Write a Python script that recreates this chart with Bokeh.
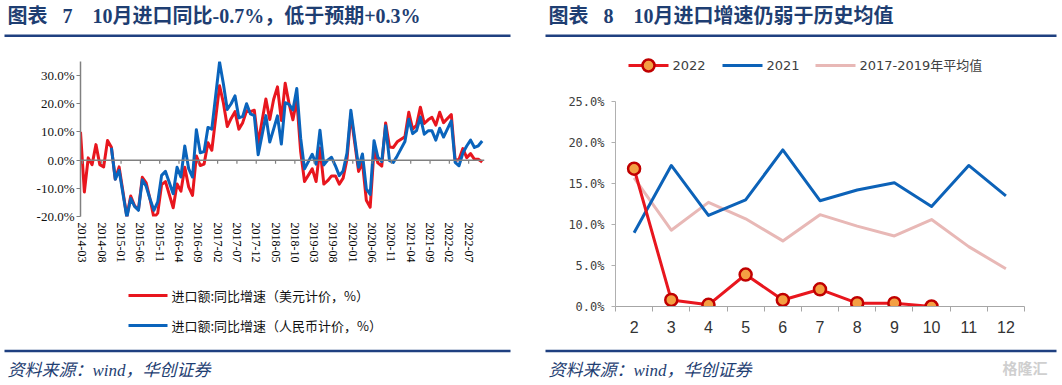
import pandas as pd
from bokeh.plotting import figure
from bokeh.models import (Range1d, FixedTicker, PrintfTickFormatter, Span, Label, BoxAnnotation)
from bokeh.layouts import row, column
from bokeh.embed import file_html
from bokeh.resources import INLINE

# ---------------- data: left chart (monthly, 2014-02 .. 2022-10; January not published) ----
months = pd.period_range("2014-02", "2022-10", freq="M").strftime("%Y-%m").tolist()

usd_2014 = [10.0, -11.3, 0.8, -1.6, 5.5, -1.6, -2.4, 7.0, 4.6, -6.7, -2.4]          # Feb-Dec
usd_2015 = [None, -20.1, -12.7, -16.2, -17.6, -6.1, -8.1, -13.8, -20.4, -18.8, -8.7, -7.6]
usd_2016 = [None, -16.9, -8.5, -11.0, -2.5, -9.5, -12.5, 1.5, -1.9, -1.4, 6.2, 3.5]
usd_2017 = [None, 26.4, 20.3, 11.9, 14.8, 17.2, 11.0, 13.3, 17.5, 17.2, 17.7, 6.0]
usd_2018 = [None, 21.7, 14.4, 21.5, 26.0, 14.1, 27.3, 20.0, 14.3, 21.4, 3.0, -7.6]
usd_2019 = [None, -3.1, -7.6, 4.3, -8.5, -7.3, -5.6, -5.6, -8.5, -6.4, 0.3, 16.3]
usd_2020 = [None, -4.0, -0.9, -14.2, -16.7, 3.5, -1.0, -2.1, 13.2, 4.7, 4.5, 6.5]
usd_2021 = [None, 8.3, 17.0, 11.0, 12.4, 18.8, 13.0, 14.3, 15.2, 12.4, 17.0, 13.3]
usd_2022 = [None, 16.2, -0.1, 0.2, 4.1, 0.9, 2.3, 0.3, 0.3, -0.7]                   # Jan-Oct

rmb_2014 = [None] * 8 + [4.4, -6.8, -3.6]
rmb_2015 = [None, -20.3, -13.6, -16.4, -17.8, -7.0, -9.3, -13.8, -17.8, -14.8, -5.4, -4.0]
rmb_2016 = [None, -11.9, -2.5, -6.0, 5.0, -3.0, -6.0, 10.8, 2.6, 3.0, 11.6, 11.0]
rmb_2017 = [None, 34.8, 27.0, 18.0, 20.0, 22.8, 15.0, 15.5, 20.0, 16.4, 15.8, 1.9]
rmb_2018 = [None, 15.8, 6.4, 11.0, 15.7, 5.7, 20.4, 19.8, 17.8, 25.4, 7.8, -3.1]
rmb_2019 = [None, 2.1, -1.4, 10.6, -1.7, 0.0, 1.0, -2.0, -5.5, -3.8, 2.5, 17.7]
rmb_2020 = [None, -2.5, 2.2, -10.2, -12.2, 6.9, 1.0, -0.5, 12.2, -0.2, -0.8, 1.5]
rmb_2021 = [None, 6.6, 14.5, 9.4, 10.5, 15.3, 9.2, 10.4, 10.4, 7.1, 11.3, 8.2]
rmb_2022 = [None, 13.9, -0.8, -2.0, 2.5, 5.0, 7.1, 4.5, 5.1, 6.8]

usd = usd_2014 + usd_2015 + usd_2016 + usd_2017 + usd_2018 + usd_2019 + usd_2020 + usd_2021 + usd_2022
rmb = rmb_2014 + rmb_2015 + rmb_2016 + rmb_2017 + rmb_2018 + rmb_2019 + rmb_2020 + rmb_2021 + rmb_2022

tick_labels_left = ["2014-03", "2014-08", "2015-01", "2015-06", "2015-11", "2016-04", "2016-09",
                    "2017-02", "2017-07", "2017-12", "2018-05", "2018-10", "2019-03", "2019-08",
                    "2020-01", "2020-06", "2020-11", "2021-04", "2021-09", "2022-02", "2022-07"]
left_y_ticks = [-20, -10, 0, 10, 20, 30]
left_series_names = ["进口额:同比增速（美元计价，%）", "进口额:同比增速（人民币计价，%）"]

# ---------------- data: right chart ----------------
month_nums = [2, 3, 4, 5, 6, 7, 8, 9, 10, 11, 12]
y2022 = [16.8, 0.8, 0.2, 3.9, 0.8, 2.1, 0.4, 0.4, 0.0]
y2021 = [9.0, 17.2, 11.1, 13.0, 19.1, 12.9, 14.2, 15.1, 12.2, 17.2, 13.5]
avg_2017_2019 = [15.7, 9.3, 12.7, 10.7, 8.0, 11.2, 9.8, 8.6, 10.6, 7.3, 4.6]
right_y_ticks = [0, 5, 10, 15, 20, 25]
right_series_names = ["2022", "2021", "2017-2019年平均值"]

title_left = "图表\u2002\u20057\u200310月进口同比-0.7%，低于预期+0.3%"
title_right = "图表\u2002\u20058\u200310月进口增速仍弱于历史均值"
source_text = "资料来源：wind，华创证券"

TITLE_BLUE = "#1e3e72"
RULE_BLUE = "#1f4080"
SERIF_CJK = "Liberation Serif, Noto Sans CJK SC"
RED = "#e8161e"
BLUE = "#0a64bc"
PINK = "#e8b8b6"


def panel(x0, x1, y0, y1):
    """Decoration canvas whose data units equal page pixels (y grows downward)."""
    f = figure(width=x1 - x0, height=y1 - y0, x_range=Range1d(x0, x1), y_range=Range1d(y1, y0),
               output_backend="svg", toolbar_location=None, x_axis_type=None, y_axis_type=None,
               min_border_left=0, min_border_right=0, min_border_top=0, min_border_bottom=0,
               frame_align=False)
    f.outline_line_color = None
    f.xgrid.visible = False
    f.ygrid.visible = False
    return f


def rule(f, x0, x1, y):
    f.add_layout(BoxAnnotation(left=x0, right=x1, top=y - 1.2, bottom=y + 1.2,
                               fill_color=RULE_BLUE, fill_alpha=1, line_alpha=0))


def text(f, x, y, s, font, size, color, style="normal"):
    f.add_layout(Label(x=x, y=y, text=s, text_font=font, text_font_size=size,
                       text_font_style=style, text_color=color,
                       text_baseline="middle", text_align="left"))


# ================= LEFT CHART =================
idx = list(range(len(months)))
ux = [i for i, v in zip(idx, usd) if v is not None]
uy = [v for v in usd if v is not None]
rx = [i for i, v in zip(idx, rmb) if v is not None]
ry = [v for v in rmb if v is not None]

p1 = figure(width=538, height=230, x_range=Range1d(0, 104.6), y_range=Range1d(-20, 35),
            output_backend="svg", toolbar_location=None, frame_align=False,
            min_border_left=80, min_border_right=54, min_border_top=16, min_border_bottom=59)
p1.outline_line_color = None
p1.xgrid.visible = False
p1.ygrid.visible = False

p1.add_layout(Span(location=0, dimension="width", line_color="#808080", line_width=1.5))
p1.line(ux, uy, line_color=RED, line_width=3, line_join="round")
p1.line(rx, ry, line_color=BLUE, line_width=3, line_join="round")

tick_pos = [months.index(t) - 0.5 for t in tick_labels_left]
p1.segment(x0=tick_pos, y0=[0] * len(tick_pos), x1=tick_pos, y1=[-1.3] * len(tick_pos),
           line_color="#808080", line_width=1.2)

xa = p1.xaxis[0]
xa.ticker = FixedTicker(ticks=tick_pos, minor_ticks=[])
xa.major_label_overrides = {t: lab for t, lab in zip(tick_pos, tick_labels_left)}
xa.axis_line_color = None
xa.major_tick_line_color = None
xa.minor_tick_line_color = None
xa.major_tick_out = 0
xa.major_tick_in = 0
xa.major_label_standoff = 6
xa.major_label_orientation = "vertical"
xa.major_label_text_font = "Liberation Serif"
xa.major_label_text_font_size = "12px"
xa.major_label_text_color = "#000000"

ya = p1.yaxis[0]
ya.ticker = FixedTicker(ticks=left_y_ticks, minor_ticks=[])
ya.formatter = PrintfTickFormatter(format="%.1f%%")
ya.axis_line_color = "#808080"
ya.axis_line_width = 1.5
ya.major_tick_line_color = "#808080"
ya.major_tick_line_width = 1.2
ya.major_tick_out = 4
ya.major_tick_in = 0
ya.minor_tick_line_color = None
ya.major_label_standoff = 2
ya.major_label_text_font = "Liberation Serif"
ya.major_label_text_font_size = "13px"
ya.major_label_text_color = "#111111"

headL = panel(0, 538, 0, 45)
text(headL, 7, 15, title_left, SERIF_CJK, "20px", TITLE_BLUE, "bold")
rule(headL, 4, 510, 35.3)

footL = panel(0, 538, 275, 385)
for yy, col, name in zip([295, 325], [RED, BLUE], left_series_names):
    footL.line([128, 167], [yy, yy], line_color=col, line_width=3)
    text(footL, 171, yy, name, "Noto Sans CJK SC", "13px", "#111111")
rule(footL, 4, 510, 350.5)
text(footL, 7, 370, source_text, SERIF_CJK, "17px", TITLE_BLUE, "italic")

# ================= RIGHT CHART =================
p2 = figure(width=524, height=255, x_range=Range1d(1.5, 12.5), y_range=Range1d(0, 25),
            output_backend="svg", toolbar_location=None, frame_align=False,
            min_border_left=77, min_border_right=38, min_border_top=16, min_border_bottom=34)
p2.outline_line_color = None
p2.xgrid.visible = False
p2.ygrid.visible = False

p2.line(month_nums, avg_2017_2019, line_color=PINK, line_width=3, line_join="round")
p2.line(month_nums, y2021, line_color="#0c62b8", line_width=3, line_join="round")
p2.line(month_nums[:len(y2022)], y2022, line_color=RED, line_width=3, line_join="round")
p2.scatter(month_nums[:len(y2022)], y2022, size=12, marker="circle",
           fill_color="#f4a043", line_color="#c00000", line_width=2.5)

xb = p2.xaxis[0]
xb.ticker = FixedTicker(ticks=month_nums,
                        minor_ticks=[m - 0.5 for m in month_nums] + [month_nums[-1] + 0.5])
xb.axis_line_color = "#a6a6a6"
xb.major_tick_out = 0
xb.major_tick_in = 0
xb.major_tick_line_color = None
xb.minor_tick_out = 5
xb.minor_tick_in = 0
xb.minor_tick_line_color = "#a6a6a6"
xb.major_label_standoff = 9
xb.major_label_text_font = "Liberation Sans"
xb.major_label_text_font_size = "16px"
xb.major_label_text_color = "#333333"

yb = p2.yaxis[0]
yb.ticker = FixedTicker(ticks=right_y_ticks, minor_ticks=[])
yb.formatter = PrintfTickFormatter(format="%.1f%%")
yb.axis_line_color = "#b0b0b0"
yb.major_tick_line_color = "#b0b0b0"
yb.major_tick_out = 4
yb.major_tick_in = 0
yb.minor_tick_line_color = None
yb.major_label_standoff = 7
yb.major_label_text_font = "DejaVu Sans Mono"
yb.major_label_text_font_size = "12px"
yb.major_label_text_color = "#404040"

headR = panel(538, 1062, 0, 85)
text(headR, 548, 15, title_right, SERIF_CJK, "20px", TITLE_BLUE, "bold")
rule(headR, 545, 1056, 35.3)
leg_x = [628, 722, 815]
leg_cols = [RED, "#0c62b8", PINK]
for lx, col, name in zip(leg_x, leg_cols, right_series_names):
    headR.line([lx, lx + 40], [65, 65], line_color=col, line_width=3)
    text(headR, lx + 44, 65, name, "DejaVu Sans, Noto Sans CJK SC", "13px", "#404040")
headR.scatter([leg_x[0] + 20], [65], size=12, marker="circle",
              fill_color="#f4a043", line_color="#c00000", line_width=2.5)

footR = panel(538, 1062, 340, 385)
rule(footR, 545, 1056, 350.5)
text(footR, 548, 370, source_text, SERIF_CJK, "17px", TITLE_BLUE, "italic")
text(footR, 1002, 367, "格隆汇", "Noto Sans CJK SC", "15px", "#cfcfcf", "bold")

layout = row(column(headL, p1, footL), column(headR, p2, footR))
open("out.html", "w").write(file_html(layout, INLINE))
